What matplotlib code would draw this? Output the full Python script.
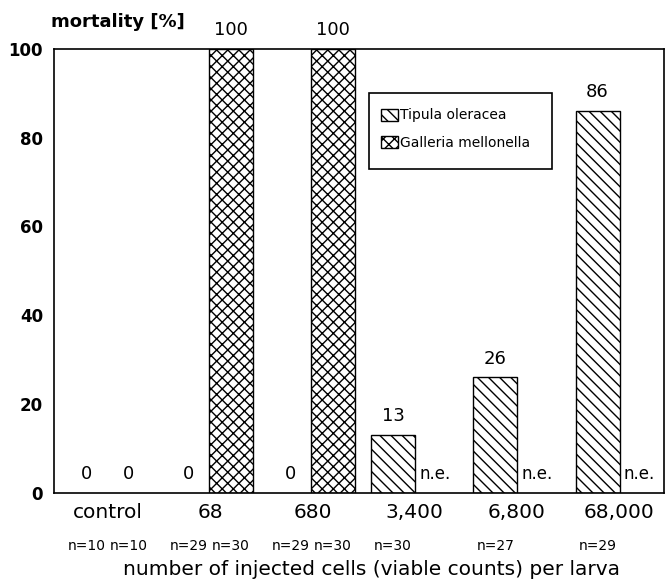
import numpy as np
import matplotlib
import matplotlib.pyplot as plt
from matplotlib.patches import Patch, Rectangle

matplotlib.use("Agg")

groups = ["control", "68", "680", "3,400", "6,800", "68,000"]
tipula = [0, 0, 0, 13, 26, 86]
galleria = [0, 100, 100, None, None, None]   # None = not examined
n_tipula = ["n=10", "n=29", "n=29", "n=30", "n=27", "n=29"]
n_galleria = ["n=10", "n=30", "n=30", None, None, None]

plt.rcParams["font.family"] = ["DejaVu Sans"]
plt.rcParams["hatch.linewidth"] = 1.0

fig = plt.figure(figsize=(6.67, 5.83), dpi=100)
ax = fig.add_axes([0.081, 0.1549, 0.9145, 0.7611])

x = np.arange(len(groups))
off_t, off_g, w = 0.21, 0.2, 0.43
h_tip, h_gal = "\\\\\\", "xxx"
lab_off = 4.2

for i in range(len(groups)):
    t = tipula[i]
    if t > 0:
        ax.bar(x[i] - off_t, t, w, facecolor="white", edgecolor="black",
               hatch=h_tip, lw=1.0)
    ax.text(x[i] - off_t, t + lab_off, str(t), ha="center", va="center",
            fontsize=13)
    g = galleria[i]
    if g is None:
        ax.text(x[i] + off_g, lab_off, "n.e.", ha="center", va="center", fontsize=12)
        continue
    if g > 0:
        ax.bar(x[i] + off_g, g, w, facecolor="white", edgecolor="black",
               hatch=h_gal, lw=1.0)
    ax.text(x[i] + off_g, g + lab_off, str(g), ha="center", va="center",
            fontsize=13, clip_on=False)

ax.set_xlim(-0.528, 5.44)
ax.set_ylim(0, 100)
ax.set_yticks([0, 20, 40, 60, 80, 100])
ax.tick_params(axis="y", length=0, labelsize=12, pad=8)
for lab in ax.get_yticklabels():
    lab.set_fontweight("bold")
ax.set_xticks(x)
ax.set_xticklabels(groups, fontsize=14.5)
ax.tick_params(axis="x", length=0, pad=14.6)
for lab in ax.get_xticklabels():
    lab.set_va("center")
for s in ax.spines.values():
    s.set_linewidth(1.2)

# sample sizes under each bar
for i in range(len(groups)):
    ax.annotate(n_tipula[i], (x[i] - off_t, 0), xytext=(0, -53.3 * 0.72),
                textcoords="offset points", ha="center", va="center", fontsize=10)
    if n_galleria[i] is not None:
        ax.annotate(n_galleria[i], (x[i] + off_g, 0), xytext=(0, -53.3 * 0.72),
                    textcoords="offset points", ha="center", va="center", fontsize=10)

ax.set_xlabel("number of injected cells (viable counts) per larva", fontsize=14.5)
ax.xaxis.set_label_coords(0.52, -0.173)
ax.xaxis.label.set_va("center")
fig.text(0.076, 0.962, "mortality [%]", fontsize=13, fontweight="bold",
         ha="left", va="center")

# legend with its own frame
ax.add_patch(Rectangle((0.516, 0.7295), 0.30, 0.1702, transform=ax.transAxes,
                       facecolor="white", edgecolor="black", lw=1.2, zorder=3))
handles = [Patch(facecolor="white", edgecolor="black", hatch=h_tip, label="Tipula oleracea"),
           Patch(facecolor="white", edgecolor="black", hatch=h_gal, label="Galleria mellonella")]
leg = ax.legend(handles=handles, loc="upper left", bbox_to_anchor=(0.536, 0.866),
                fontsize=10, frameon=False, handlelength=1.22, handleheight=0.94,
                handletextpad=0.15, borderpad=0, labelspacing=0.95, borderaxespad=0)
leg.set_zorder(4)

fig.savefig("out.png", dpi=100)
